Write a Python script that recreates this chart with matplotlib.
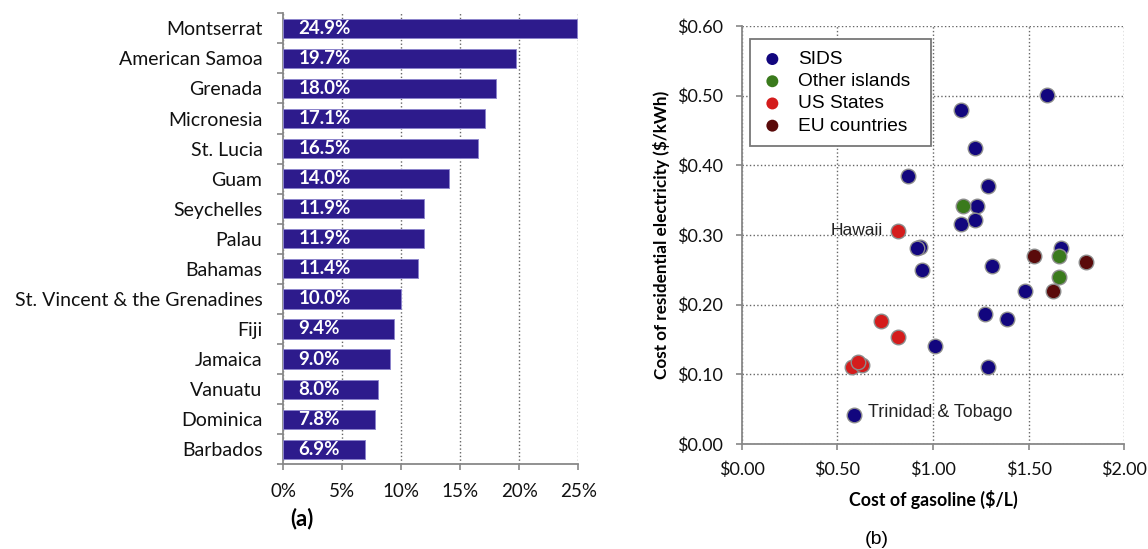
import matplotlib
matplotlib.use("Agg")
import matplotlib.pyplot as plt
from matplotlib.patches import Rectangle
from matplotlib.ticker import FuncFormatter, MultipleLocator

countries = ["Montserrat", "American Samoa", "Grenada", "Micronesia", "St. Lucia", "Guam",
             "Seychelles", "Palau", "Bahamas", "St. Vincent & the Grenadines", "Fiji",
             "Jamaica", "Vanuatu", "Dominica", "Barbados"]
shares = [24.9, 19.7, 18.0, 17.1, 16.5, 14.0, 11.9, 11.9, 11.4, 10.0, 9.4, 9.0, 8.0, 7.8, 6.9]

sids_x = [1.598, 1.146, 1.220, 0.871, 1.289, 1.232, 1.146, 1.220, 0.932, 0.918, 0.941, 1.310,
          1.669, 1.481, 1.272, 1.389, 1.009, 1.289, 0.589]
sids_y = [0.501, 0.480, 0.425, 0.384, 0.370, 0.341, 0.316, 0.321, 0.283, 0.281, 0.250, 0.256,
          0.281, 0.220, 0.186, 0.180, 0.141, 0.111, 0.041]
other_x = [1.155, 1.659, 1.659]
other_y = [0.341, 0.270, 0.240]
us_x = [0.819, 0.728, 0.819, 0.577, 0.627, 0.610]
us_y = [0.306, 0.177, 0.154, 0.111, 0.114, 0.118]
eu_x = [1.530, 1.798, 1.629]
eu_y = [0.270, 0.261, 0.220]

plt.rcParams['font.family'] = ['Lato', 'DejaVu Sans']

fig = plt.figure(figsize=(11.48, 5.49), dpi=100)

# ---- (a) bar chart
ax1 = fig.add_axes([0.2468, 0.1543, 0.2570, 0.8215])
ypos = list(range(len(countries)))
ax1.barh(ypos, shares, height=0.64, color="#2D1B8C", edgecolor="#8C84CC", linewidth=0.7, zorder=3)
for y, v in zip(ypos, shares):
    ax1.text(1.27, y, f"{v:.1f}%", color="white", fontweight="bold", fontsize=13.5,
             va="center", ha="left", zorder=4)
ax1.set_ylim(len(countries) - 0.5, -0.5)
ax1.set_xlim(0, 25)
ax1.set_yticks(ypos)
ax1.set_yticklabels(countries, fontsize=14, color="#111111")
ax1.set_yticks([i - 0.5 for i in range(len(countries) + 1)], minor=True)
ax1.tick_params(axis="y", which="major", length=0, pad=15)
ax1.tick_params(axis="y", which="minor", length=4.5, color="#888888", width=1.2)
ax1.xaxis.set_major_locator(MultipleLocator(5))
ax1.xaxis.set_major_formatter(FuncFormatter(lambda v, p: f"{v:.0f}%"))
ax1.tick_params(axis="x", labelsize=13.5, length=4.5, color="#888888", width=1.2, pad=9,
                labelcolor="#111111")
ax1.grid(axis="x", linestyle=":", color="#666666", linewidth=1.0, zorder=0)
for s in ["top", "right"]:
    ax1.spines[s].set_visible(False)
for s in ["left", "bottom"]:
    ax1.spines[s].set_color("#888888")
    ax1.spines[s].set_linewidth(1.3)
fig.text(301.7 / 1148, 1 - 518.3 / 549, "(a)", fontsize=16, fontweight="bold",
         ha="center", va="center")

# ---- (b) scatter
ax2 = fig.add_axes([0.6461, 0.1913, 0.3333, 0.7614])
kw = dict(s=110, edgecolors="#8C8C8C", linewidths=1.0, zorder=3)
ax2.scatter(sids_x, sids_y, color="#12067E", label="SIDS", **kw)
ax2.scatter(other_x, other_y, color="#3A7A1C", label="Other islands", **kw)
ax2.scatter(us_x, us_y, color="#D41C1C", label="US States", **kw)
ax2.scatter(eu_x, eu_y, color="#5A0A0A", label="EU countries", **kw)
ax2.set_xlim(0, 2.0)
ax2.set_ylim(0, 0.6)
ax2.xaxis.set_major_locator(MultipleLocator(0.5))
ax2.yaxis.set_major_locator(MultipleLocator(0.1))
ax2.xaxis.set_major_formatter(FuncFormatter(lambda v, p: f"${v:.2f}"))
ax2.yaxis.set_major_formatter(FuncFormatter(lambda v, p: f"${v:.2f}"))
ax2.tick_params(labelsize=13, length=4.5, color="#888888", width=1.2, labelcolor="#111111")
ax2.tick_params(axis="x", pad=8)
ax2.tick_params(axis="y", pad=9)
ax2.grid(True, linestyle=":", color="#666666", linewidth=1.0, zorder=0)
for s in ["top", "right"]:
    ax2.spines[s].set_visible(False)
for s in ["left", "bottom"]:
    ax2.spines[s].set_color("#888888")
    ax2.spines[s].set_linewidth(1.3)
ax2.set_xlabel("Cost of gasoline ($/L)", fontsize=12.8, fontweight="bold", labelpad=9)
ax2.set_ylabel("Cost of residential electricity ($/kWh)", fontsize=12.3, fontweight="bold",
               labelpad=5)
ax2.text(0.737, 0.306, "Hawaii", fontsize=12.5, ha="right", va="center", color="#222222",
         family=["Liberation Sans"])
ax2.text(0.659, 0.045, "Trinidad & Tobago", fontsize=12.9, ha="left", va="center",
         color="#222222", family=["Liberation Sans"])

# legend box
box_x0, box_x1, box_y0, box_y1 = 0.0217, 0.494, 0.713, 0.968
ax2.add_patch(Rectangle((box_x0, box_y0), box_x1 - box_x0, box_y1 - box_y0,
                        transform=ax2.transAxes, facecolor="white", edgecolor="#777777",
                        linewidth=1.3, zorder=5))
leg = ax2.legend(loc="upper left", bbox_to_anchor=(box_x0, box_y1), markerscale=0.82,
                 frameon=False, handlelength=1.15, handletextpad=0.78, labelspacing=0.25,
                 borderpad=0.59, borderaxespad=0,
                 prop={"family": "Liberation Sans", "size": 13.8})
leg.set_zorder(6)
for h in leg.legend_handles:
    h.set_edgecolor("none")
fig.text(876.7 / 1148, 1 - 540 / 549, "(b)", fontsize=14, ha="center", va="center",
         family=["Liberation Sans"])

fig.savefig("out.png", dpi=100)
